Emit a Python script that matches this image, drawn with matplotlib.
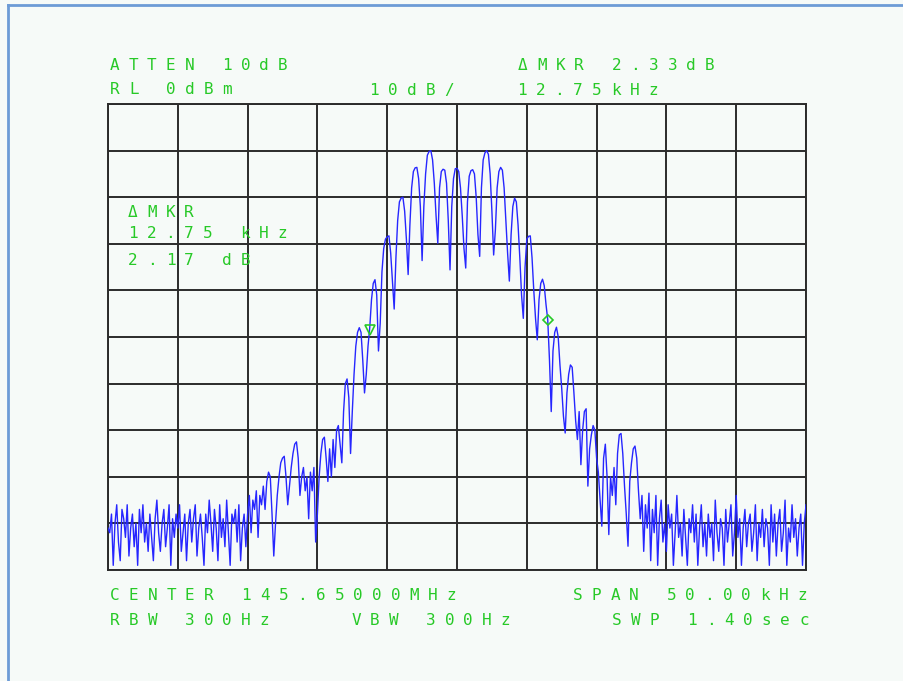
import numpy as np
import matplotlib
matplotlib.use('Agg')
import matplotlib.pyplot as plt
from matplotlib.lines import Line2D

# Analyzer settings shown on screen
span_khz = 50.0
ref_dbm = 0
db_per_div = 10

# Trace, dBm, 401 points from -25 kHz to +25 kHz (8 per kHz)
trace_dbm = [
    -91, -92, -88, -99, -90, -86, -94, -98,
    -87, -89, -93, -86, -97, -91, -88, -95,
    -90, -99, -87, -92, -86, -94, -90, -96,
    -88, -93, -98, -89, -85, -92, -96, -90,
    -87, -95, -91, -86, -99, -89, -93, -88,
    -91, -86, -96, -92, -88, -98, -90, -87,
    -94, -89, -86, -97, -91, -88, -93, -99,
    -88, -92, -85, -90, -96, -87, -91, -98,
    -86, -93, -89, -95, -85, -92, -99, -88,
    -90, -87, -94, -86, -98, -91, -88, -95,
    -88, -84, -92, -85, -87, -83, -93, -84,
    -86, -82, -87, -81, -79, -80, -88, -97,
    -90, -84, -80, -77, -76, -75.6, -80, -86,
    -82, -78, -75, -73, -72.5, -76, -84, -80,
    -78, -83, -80, -89, -79, -83, -78, -94,
    -88, -80, -75, -72, -71.5, -76, -81, -74,
    -80, -72, -78, -70, -69, -73, -77, -66,
    -60, -59, -63, -75, -66, -58, -52, -49,
    -48, -49, -55, -62, -58, -52, -48, -42,
    -38.5, -37.7, -41, -53, -47, -36, -31, -29,
    -28.5, -28.3, -32, -38, -44, -33, -25, -21,
    -20.2, -20, -23, -29, -36.6, -26, -18, -14.5,
    -13.7, -13.6, -16, -22, -33.6, -22, -15, -11,
    -10.2, -10, -12, -17, -24, -29.9, -18, -14.5,
    -14, -14.2, -17, -25, -35.6, -22, -16, -13.9,
    -13.8, -14.5, -18, -24, -31, -35.2, -21, -15.5,
    -14.3, -14.1, -15, -20, -28, -32.7, -18, -12,
    -10.5, -10, -10.8, -15, -23, -32.4, -27, -18,
    -14.5, -13.6, -14.2, -18, -25, -32, -38, -28,
    -22, -20.2, -21, -26, -33, -41, -46, -35,
    -29, -28.4, -28.3, -33, -40, -46, -50.6, -42,
    -38.5, -37.6, -39, -43, -46.3, -55, -66, -53,
    -49, -47.9, -50, -56, -61, -67, -70.6, -62,
    -58, -56, -56.5, -62, -68, -72, -66, -77.4,
    -70, -66, -65.4, -82, -74, -71, -69, -70,
    -76, -79, -85, -90.6, -76, -73, -80, -92.4,
    -80, -84, -78, -86, -75, -71, -70.7, -75,
    -82, -88, -94.9, -81, -77, -74, -73.4, -76,
    -83, -89, -84, -96, -86, -91, -83.5, -98,
    -87, -92, -84, -99, -89, -85, -94, -90,
    -96, -86, -91, -88, -99, -92, -84, -93,
    -90, -97, -87, -93, -99, -89, -92, -86,
    -94, -88, -99, -91, -86, -95, -90, -97,
    -88, -93, -90, -98, -85, -92, -96, -89,
    -91, -99, -87, -94, -90, -86, -97, -92,
    -84, -93, -89, -99, -91, -87, -95, -90,
    -88, -96, -92, -86, -98, -90, -93, -87,
    -95, -89, -91, -99, -86, -94, -88, -97,
    -90, -87, -96, -92, -85, -99, -91, -94,
    -86, -93, -89, -97, -91, -88, -99, -90,
    -86,
]

# Markers (kHz offset, dBm)
ref_marker = (-6.25, -48.5)
delta_marker = (6.5, -46.3)

# Screen annotations: (text, x of first char centre px, baseline y px)
labels = [
    ('ATTEN 10dB', 114.5, 70),
    ('RL 0dBm', 115, 94.5),
    ('10dB/', 374, 95),
    ('\u0394MKR 2.33dB', 523, 70),
    ('12.75kHz', 522, 95),
    ('\u0394MKR', 133, 217),
    ('12.75 kHz', 133, 238),
    ('2.17 dB', 133, 265),
    ('CENTER 145.65000MHz', 115, 600),
    ('SPAN 50.00kHz', 578, 600),
    ('RBW 300Hz', 115, 625),
    ('VBW 300Hz', 356, 625),
    ('SWP 1.40sec', 617, 625),
]

W, H = 904, 681
GREEN = '#27c927'
BG = '#f6faf8'
GRID = '#2b2b2b'

fig = plt.figure(figsize=(W / 100, H / 100), dpi=100, facecolor=BG)

# Window frame (left and top edge)
fig.add_artist(Line2D([8 / W, 8 / W], [0, 1 - 5 / H], color='#6d9bd6', lw=2))
fig.add_artist(Line2D([8 / W, 1], [1 - 5 / H, 1 - 5 / H], color='#6d9bd6', lw=2))

ax = fig.add_axes([108 / W, 1 - 570 / H, 698 / W, 466 / H], facecolor=BG)

freq_khz = np.linspace(-span_khz / 2, span_khz / 2, len(trace_dbm))
ax.plot(freq_khz, trace_dbm, color='#2626ff', lw=1.0, zorder=3)

# marker symbols
ax.plot(*ref_marker, marker='v', ms=7, mfc='none', mec=GREEN, mew=1.2, zorder=4)
ax.plot(*delta_marker, marker='D', ms=5, mfc='none', mec=GREEN, mew=1.2, zorder=4)

ax.set_xlim(-span_khz / 2, span_khz / 2)
ax.set_ylim(ref_dbm - 10 * db_per_div, ref_dbm)
ax.set_xticks(np.arange(-25, 26, 5))
ax.set_yticks(np.arange(-100, 1, 10))
ax.tick_params(length=0, labelbottom=False, labelleft=False)
ax.grid(True, color=GRID, lw=1.4)
for s in ax.spines.values():
    s.set_color(GRID)
    s.set_linewidth(1.4)


def screen_text(s, x0, y, pitch=18.7):
    # the analyzer font has a fixed, wide character pitch
    for i, ch in enumerate(s):
        if ch == ' ':
            continue
        fig.text((x0 + i * pitch) / W, 1 - y / H, ch, ha='center', va='baseline',
                 color=GREEN, family='DejaVu Sans Mono', fontsize=11.5, zorder=5)


for txt, x0, y in labels:
    screen_text(txt, x0, y)

fig.savefig('out.png', dpi=100, facecolor=BG)
